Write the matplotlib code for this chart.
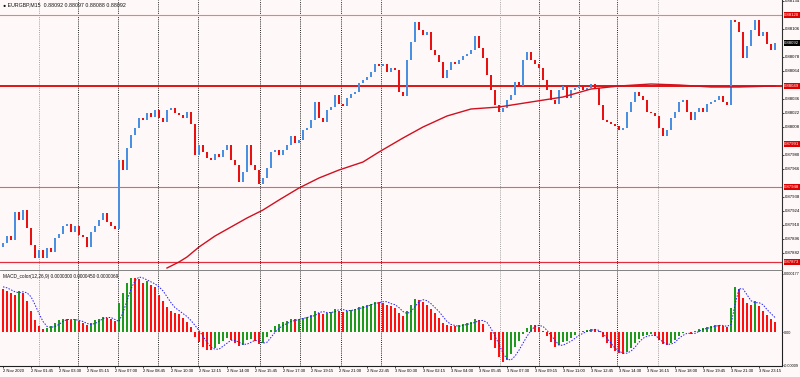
import matplotlib
matplotlib.use('Agg')
import matplotlib.pyplot as plt
import matplotlib.transforms as mtransforms
import numpy as np

# Chart data
title_text = '\u25cf EURGBP,M15  0.88092 0.88097 0.88088 0.88092'
macd_text = 'MACD_color(12,26,9) 0.0000300 0.0000450 0.0000069'

first_open = 0.87888
closes = [
    0.87892, 0.87899, 0.87895, 0.87923, 0.87915, 0.87925, 0.87907, 0.87890, 0.87877, 0.87885,
    0.87877, 0.87887, 0.87883, 0.87897, 0.87901, 0.87909, 0.87911, 0.87903, 0.87909, 0.87900,
    0.87898, 0.87888, 0.87903, 0.87909, 0.87915, 0.87922, 0.87913, 0.87909, 0.87906, 0.87975,
    0.87965, 0.87987, 0.88000, 0.88007, 0.88017, 0.88015, 0.88022, 0.88018, 0.88025, 0.88017,
    0.88013, 0.88025, 0.88027, 0.88022, 0.88020, 0.88017, 0.88023, 0.88011, 0.87980, 0.87990,
    0.87983, 0.87977, 0.87975, 0.87981, 0.87978, 0.87985, 0.87990, 0.87975, 0.87970, 0.87953,
    0.87963, 0.87990, 0.87970, 0.87965, 0.87951, 0.87957, 0.87967, 0.87983, 0.87985, 0.87980,
    0.87985, 0.87990, 0.87999, 0.87992, 0.87995, 0.88005, 0.88007, 0.88015, 0.88033, 0.88017,
    0.88013, 0.88025, 0.88028, 0.88040, 0.88031, 0.88029, 0.88037, 0.88041, 0.88043, 0.88052,
    0.88055, 0.88058, 0.88063, 0.88071, 0.88069, 0.88071, 0.88063, 0.88067, 0.88065, 0.88043,
    0.88039, 0.88075, 0.88093, 0.88113, 0.88105, 0.88100, 0.88103, 0.88085, 0.88080, 0.88073,
    0.88057, 0.88065, 0.88073, 0.88071, 0.88075, 0.88079, 0.88081, 0.88085, 0.88099, 0.88087,
    0.88077, 0.88060, 0.88045, 0.88030, 0.88023, 0.88027, 0.88035, 0.88040, 0.88053, 0.88049,
    0.88075, 0.88083, 0.88075, 0.88071, 0.88067, 0.88055, 0.88045, 0.88035, 0.88031, 0.88045,
    0.88049, 0.88037, 0.88045, 0.88047, 0.88049, 0.88045, 0.88047, 0.88051, 0.88047, 0.88030,
    0.88015, 0.88013, 0.88011, 0.88009, 0.88005, 0.88007, 0.88023, 0.88033, 0.88043, 0.88039,
    0.88035, 0.88023, 0.88022, 0.88019, 0.88007, 0.87999, 0.88005, 0.88017, 0.88023, 0.88033,
    0.88035, 0.88023, 0.88015, 0.88023, 0.88027, 0.88023, 0.88031, 0.88033, 0.88035, 0.88039,
    0.88033, 0.88030, 0.88115, 0.88113, 0.88103, 0.88077, 0.88089, 0.88105, 0.88115, 0.88099,
    0.88103, 0.88091, 0.88085, 0.88092,
]

ma_index = [41, 44, 46, 49, 53, 57, 61, 65, 69, 74, 79, 84, 90, 94, 100, 105, 111, 117,
            124, 132, 140, 147, 154, 162, 169, 177, 184, 193]
ma_values = [0.87867, 0.87873, 0.87878, 0.87888, 0.87899, 0.87908, 0.87917, 0.87925,
             0.87935, 0.87947, 0.87957, 0.87965, 0.87973, 0.87983, 0.87997, 0.88008,
             0.88019, 0.88026, 0.88028, 0.88033, 0.88038, 0.88046, 0.88049, 0.88051,
             0.88050, 0.88048, 0.88048, 0.88049]

levels = [0.88120, 0.88049, 0.87948, 0.87873]
level_colors = ['#f07c80', '#dd0000', '#e8606a', '#e03040']
level_widths = [0.8, 1.3, 0.8, 0.9]
red_tags = [0.88120, 0.88049, 0.87991, 0.87948, 0.87873]
current_price = 0.88092

price_ticks = [0.88134, 0.88106, 0.88078, 0.88064, 0.88036, 0.88022, 0.88008,
               0.87980, 0.87966, 0.87938, 0.87924, 0.87910, 0.87896, 0.87882]

# MACD histogram and signal, in millionths
hist_micro = [
    132, 126, 120, 114, 126, 120, 96, 66, 36, 18, 9,
    12, 18, 27, 36, 42, 39, 36, 39, 33, 27, 21, 27, 36, 42, 48, 45, 39, 33,
    90, 120, 150, 165, 165, 162, 150, 156, 144, 138, 114, 96, 78, 66, 60, 57, 45, 30, 15,
    -15, -30, -45, -54, -54, -48, -36, -27, -18, -24, -33, -42, -39, -24, -21, -27, -36, -33, -15,
    6, 18, 24, 30, 33, 39, 39, 42, 45, 48, 54, 66, 60, 57, 60, 63, 72, 66, 63, 66,
    69, 72, 78, 81, 84, 87, 93, 93, 90, 84, 81, 75, 60, 51, 66, 84, 102, 99, 93, 84,
    72, 60, 45, 27, 21, 18, 18, 21, 24, 27, 30, 39, 36, 24,
    0, -24, -48, -75, -90, -84, -66, -45, -27, -6,
    12, 21, 21, 15, 3,
    -12, -30, -45, -39, -30, -27, -18, -9,
    0, 3, 6, 9, 9, 3,
    -15, -33, -48, -57, -63, -66, -60, -48, -33, -21, -12, -9,
    -6, -12, -24, -36, -39, -33, -24, -12, -3, 0, -6,
    3, 9, 12, 15, 18, 21, 21, 18, 15,
    75, 138, 132, 105, 90, 84, 96, 81, 66, 54, 42, 30,
]
signal_micro = [
    138, 135, 129, 123, 120, 123, 120, 108, 84, 57, 33,
    18, 15, 18, 24, 33, 39, 39, 39, 36, 33, 27, 24, 27, 33, 42, 45, 45, 39,
    33, 60, 96, 132, 156, 168, 165, 159, 153, 147, 138, 126, 108, 90, 75, 66, 57, 48, 36,
    21, 6, -12, -30, -45, -51, -51, -42, -33, -24, -24, -30, -36, -36, -30, -24, -27, -33, -30,
    -15, 0, 12, 21, 27, 33, 36, 39, 42, 45, 48, 51, 60, 63, 60, 60, 63, 69, 69, 66,
    66, 69, 72, 75, 78, 84, 87, 90, 93, 93, 87, 84, 75, 63, 57, 63, 78, 93, 99, 96,
    87, 75, 63, 48, 33, 24, 21, 18, 21, 24, 27, 30, 36, 36,
    30, 12, -12, -36, -63, -81, -84, -72, -54, -33,
    -12, 6, 18, 21, 18,
    6, -9, -24, -39, -39, -33, -27, -18,
    -9, -3, 3, 6, 9, 6,
    -3, -18, -33, -48, -57, -63, -63, -57, -45, -30, -18, -12,
    -9, -9, -18, -30, -36, -36, -30, -18, -9, -3, -3,
    -3, 3, 9, 12, 15, 18, 21, 21, 18,
    24, 84, 132, 132, 114, 96, 90, 90, 84, 69, 57, 45,
]
macd_ticks = [0.000177, 0.0, -0.000099]
macd_tick_labels = ['0.000177', '0.00', '-0.00009']

time_ticks = [0, 7, 14, 21, 28, 35, 42, 49, 56, 63, 70, 77, 84, 91, 98, 105, 112, 119,
              126, 133, 140, 147, 154, 161, 168, 175, 182, 189]
time_labels = ['2 Nov 2020', '2 Nov 01:45', '2 Nov 03:30', '2 Nov 05:15', '2 Nov 07:00',
               '2 Nov 08:45', '2 Nov 10:30', '2 Nov 12:15', '2 Nov 14:00', '2 Nov 15:45',
               '2 Nov 17:30', '2 Nov 19:15', '2 Nov 21:00', '2 Nov 22:45', '3 Nov 00:30',
               '3 Nov 02:15', '3 Nov 04:00', '3 Nov 05:45', '3 Nov 07:30', '3 Nov 09:15',
               '3 Nov 11:00', '3 Nov 12:45', '3 Nov 14:30', '3 Nov 16:15', '3 Nov 18:00',
               '3 Nov 19:45', '3 Nov 21:30', '3 Nov 23:15']

separators = [9.0, 18.75, 28.75, 38.75, 48.75, 64.25, 74.25, 84.5, 94.5, 124.25,
              134.0, 144.0, 153.5, 163.75]
separators_gray = [9.0, 124.25, 163.75]


def main():
    plt.rcParams['font.family'] = ['Liberation Sans', 'DejaVu Sans']
    bg = '#fff8f8'
    up_col = '#4a90e2'
    down_col = '#e81010'
    tick_fs = 3.1

    fig = plt.figure(figsize=(8, 3.77), dpi=100, facecolor=bg)
    W, H = 800, 377
    ax = fig.add_axes([0, 1 - 270 / H, 782 / W, 270 / H], facecolor=bg)
    ax2 = fig.add_axes([0, 1 - 366 / H, 782 / W, 95 / H], facecolor=bg)

    n = len(closes)
    xs = np.arange(n)
    opens = [first_open] + closes[:-1]

    # Grid separators
    for a in (ax, ax2):
        for s in separators:
            col = '#a0a0a0' if s in separators_gray else '#202020'
            a.axvline(s, color=col, lw=0.7, ls=(0, (1, 1.2)), zorder=1)

    # Horizontal levels
    for lv, c, w in zip(levels, level_colors, level_widths):
        ax.axhline(lv, color=c, lw=w, zorder=2)

    # Candles
    for x, o, c in zip(xs, opens, closes):
        col = up_col if c >= o else down_col
        lo, hi = min(o, c), max(o, c)
        if hi - lo < 0.000015:
            hi = lo + 0.000015
        ax.bar(x, hi - lo, bottom=lo, width=0.5, color=col, edgecolor='none', zorder=3)

    # Moving average
    ax.plot(ma_index, ma_values, color='#d01020', lw=1.0, zorder=4)

    ax.set_xlim(-0.75, 194.75)
    ax.set_ylim(0.87865, 0.88135)
    ax.set_xticks([])
    ax.yaxis.tick_right()
    ax.set_yticks(price_ticks)
    ax.set_yticklabels(['%.5f' % p for p in price_ticks])
    ax.tick_params(axis='y', labelsize=tick_fs, length=1.2, width=0.5, pad=0.6)
    for side in ('left', 'top'):
        ax.spines[side].set_visible(False)
    ax.spines['right'].set_color('#303030')
    ax.spines['right'].set_linewidth(0.8)
    ax.spines['bottom'].set_color('#707070')
    ax.spines['bottom'].set_linewidth(0.6)

    trans = mtransforms.blended_transform_factory(ax.transAxes, ax.transData)
    for p in red_tags:
        ax.text(1.003, p, '%.5f' % p, transform=trans, fontsize=tick_fs, color='white',
                va='center', ha='left', clip_on=False, zorder=6,
                bbox=dict(boxstyle='square,pad=0.12', fc='#e00000', ec='none'))
    ax.text(1.003, current_price, '%.5f' % current_price, transform=trans, fontsize=tick_fs,
            color='white', va='center', ha='left', clip_on=False, zorder=6,
            bbox=dict(boxstyle='square,pad=0.12', fc='#000000', ec='none'))

    ax.text(0.004, 0.993, title_text, transform=ax.transAxes, fontsize=3.8, va='top',
            ha='left', color='#101010')

    # MACD panel
    hist = np.array(hist_micro) * 1e-6
    signal = np.array(signal_micro) * 1e-6
    colors = ['#1e9a1e' if i > 0 and hist[i] > hist[i - 1] else '#ff1010' for i in range(n)]
    ax2.bar(xs, hist, width=0.6, color=colors, edgecolor='none', zorder=3)
    ax2.plot(xs, signal, color='#2020ff', lw=0.7, ls=(0, (1.5, 1.5)), zorder=4)

    ax2.set_xlim(-0.75, 194.75)
    ax2.set_ylim(-0.000102, 0.000186)
    ax2.yaxis.tick_right()
    ax2.set_yticks(macd_ticks)
    ax2.set_yticklabels(macd_tick_labels)
    ax2.tick_params(axis='y', labelsize=2.7, length=1.0, width=0.5, pad=0.4)
    ax2.set_xticks(time_ticks)
    ax2.set_xticklabels(time_labels, ha='left')
    ax2.tick_params(axis='x', labelsize=3.0, length=1.5, width=0.5, pad=1)
    for side in ('left', 'top'):
        ax2.spines[side].set_visible(False)
    for side in ('right', 'bottom'):
        ax2.spines[side].set_color('#202020')
        ax2.spines[side].set_linewidth(0.8)

    ax2.text(0.004, 0.97, macd_text, transform=ax2.transAxes, fontsize=3.4, va='top',
             ha='left', color='#101010')

    fig.savefig('out.png', dpi=100, facecolor=bg)


if __name__ == '__main__':
    main()
